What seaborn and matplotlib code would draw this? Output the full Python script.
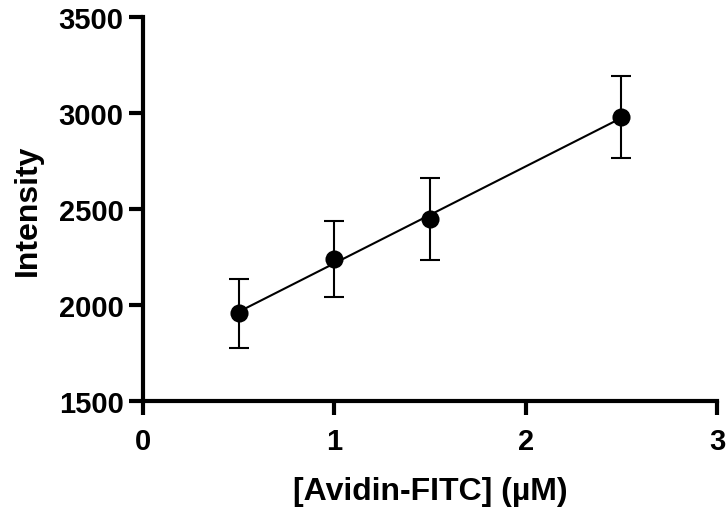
import matplotlib
matplotlib.use("Agg")
import matplotlib.pyplot as plt
import seaborn as sns
import numpy as np
import pandas as pd

conc = [0.5, 1.0, 1.5, 2.5]
intensity = [1958, 2240, 2448, 2979]
err = [180, 200, 215, 213]
xticks = [0, 1, 2, 3]
yticks = [1500, 2000, 2500, 3000, 3500]

sns.set_style("ticks")
plt.rcParams['font.family'] = ['Liberation Sans', 'DejaVu Sans']
plt.rcParams['font.weight'] = 'bold'
plt.rcParams['text.color'] = 'black'
plt.rcParams['axes.labelcolor'] = 'black'
plt.rcParams['xtick.color'] = 'black'
plt.rcParams['ytick.color'] = 'black'

df = pd.DataFrame({"conc": conc, "intensity": intensity, "err": err})

fig = plt.figure(figsize=(7.26, 5.10), dpi=100)
ax = fig.add_axes([143/726, 1 - 402/510, (717-143)/726, (402-18)/510])

sns.regplot(data=df, x="conc", y="intensity", ci=None, scatter=False, ax=ax,
            line_kws=dict(color="black", lw=1.5))
ax.errorbar(df["conc"], df["intensity"], yerr=df["err"], fmt="none",
            ecolor="black", elinewidth=1.5, capsize=7.5, capthick=1.5, zorder=3)
sns.scatterplot(data=df, x="conc", y="intensity", ax=ax, color="black", s=170,
                edgecolor="black", linewidth=0, zorder=4)

ax.set_xlim(0, 3)
ax.set_ylim(1500, 3500)
ax.set_xticks(xticks)
ax.set_yticks(yticks)
ax.set_xticklabels([str(t) for t in xticks], fontsize=21, fontweight="bold", color="black")
ax.set_yticklabels([str(t) for t in yticks], fontsize=21, fontweight="bold", color="black")
ax.set_xlabel("[Avidin-FITC] (µM)", fontsize=23, fontweight="bold", labelpad=15, color="black")
ax.set_ylabel("Intensity", fontsize=23, fontweight="bold", labelpad=11, color="black")

for s in ["top", "right"]:
    ax.spines[s].set_visible(False)
for s in ["left", "bottom"]:
    ax.spines[s].set_linewidth(3)
    ax.spines[s].set_color("black")
ax.tick_params(axis="x", width=3, length=10, color="black", pad=9)
ax.tick_params(axis="y", width=3, length=10, color="black", pad=4)

fig.savefig("out.png", dpi=100)
